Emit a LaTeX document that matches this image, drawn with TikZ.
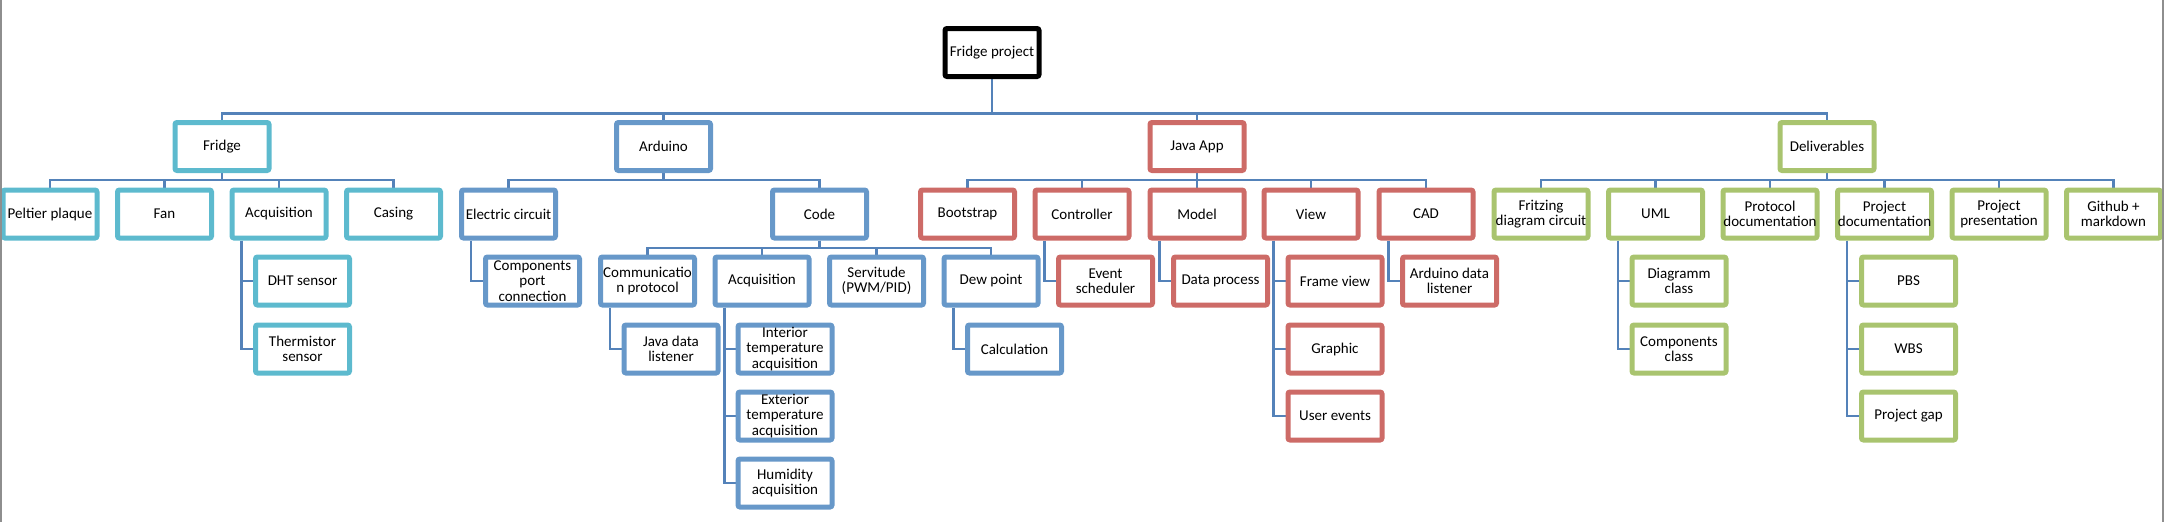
\documentclass[tikz,border=0pt]{standalone}
\usepackage{fontspec}
\setmainfont{Carlito}
\usetikzlibrary{backgrounds}
\definecolor{cFr}{HTML}{5DBACE}
\definecolor{cAr}{HTML}{6798C9}
\definecolor{cJa}{HTML}{CD6B67}
\definecolor{cDe}{HTML}{A9C46F}
\definecolor{cLn}{HTML}{5482B9}
\definecolor{cPg}{HTML}{8E8E8E}
\newcommand\mybus[3]{\draw[conn] (#1.south) -- (#1.south |- #3) -| (#2.north);}
\newcommand\myside[2]{\draw[conn] ([xshift=-37.5pt]#1.south) |- (#2.west);}
\begin{document}
\begin{tikzpicture}[x=1pt,y=-1pt,
  box/.style={draw,line width=5pt,fill=white,minimum width=94pt,minimum height=48pt,
    inner sep=0pt,align=center,rounded corners=2pt,font=\fontsize{15}{15.2}\selectfont},
  blk/.style={box,draw=black},
  fr/.style={box,draw=cFr},
  ar/.style={box,draw=cAr},
  ja/.style={box,draw=cJa},
  de/.style={box,draw=cDe},
  conn/.style={draw=cLn,line width=2.5pt},
  page/.style={draw=cPg,line width=2pt}]
\useasboundingbox (0,0) rectangle (2164,522);
\coordinate (b0) at (0,113.5);
\coordinate (b1) at (0,180);
\coordinate (b2) at (0,248);
% level 0 and 1
\node[blk] (root) at (992,52.5) {Fridge project};
\node[fr] (fridge) at (222,146.5) {Fridge};
\node[ar] (arduino) at (663.5,146.5) {Arduino};
\node[ja] (java) at (1197,146.5) {Java App};
\node[de] (deliv) at (1827,146.5) {Deliverables};
% level 2
\node[fr] (peltier) at (50,214) {Peltier plaque};
\node[fr] (fan) at (164.5,214) {Fan};
\node[fr] (acq) at (279,214) {Acquisition};
\node[fr] (casing) at (393.5,214) {Casing};
\node[ar] (elec) at (508.5,214) {Electric circuit};
\node[ar] (code) at (819.5,214) {Code};
\node[ja] (boot) at (967.5,214) {Bootstrap};
\node[ja] (ctrl) at (1082,214) {Controller};
\node[ja] (model) at (1197,214) {Model};
\node[ja] (view) at (1311,214) {View};
\node[ja] (cad) at (1426,214) {CAD};
\node[de] (fritz) at (1541,214) {Fritzing\\diagram circuit};
\node[de] (uml) at (1655.5,214) {UML};
\node[de] (proto) at (1770,214) {Protocol\\documentation};
\node[de] (pdoc) at (1884.5,214) {Project\\documentation};
\node[de] (ppres) at (1999,214) {Project\\presentation};
\node[de] (github) at (2113.5,214) {Github +\\markdown};
% level 3
\node[fr] (dht) at (302.5,281) {DHT sensor};
\node[fr] (therm) at (302.5,349) {Thermistor\\sensor};
\node[ar] (comp) at (532.5,281) {Components\\port\\connection};
\node[ar] (comm) at (647.5,281) {Communicatio\\n protocol};
\node[ar] (cacq) at (762,281) {Acquisition};
\node[ar] (serv) at (876.5,281) {Servitude\\(PWM/PID)};
\node[ar] (dew) at (991,281) {Dew point};
\node[ja] (event) at (1105.5,281) {Event\\scheduler};
\node[ja] (dproc) at (1220.5,281) {Data process};
\node[ja] (frame) at (1335,281) {Frame view};
\node[ja] (graphic) at (1335,349) {Graphic};
\node[ja] (uevents) at (1335,416) {User events};
\node[ja] (cadl) at (1449.5,281) {Arduino data\\listener};
\node[de] (diag) at (1679,281) {Diagramm\\class};
\node[de] (compc) at (1679,349) {Components\\class};
\node[de] (pbs) at (1908.5,281) {PBS};
\node[de] (wbs) at (1908.5,349) {WBS};
\node[de] (gap) at (1908.5,416) {Project gap};
% level 4
\node[ar] (jdl) at (671,349) {Java data\\listener};
\node[ar] (inter) at (785,349) {Interior\\temperature\\acquisition};
\node[ar] (exter) at (785,416) {Exterior\\temperature\\acquisition};
\node[ar] (humid) at (785,483) {Humidity\\acquisition};
\node[ar] (calc) at (1014.5,349) {Calculation};
\begin{pgfonlayer}{background}
\mybus{root}{fridge}{b0}
\mybus{root}{arduino}{b0}
\mybus{root}{java}{b0}
\mybus{root}{deliv}{b0}
\foreach \c in {peltier,fan,acq,casing} {\mybus{fridge}{\c}{b1}}
\foreach \c in {elec,code} {\mybus{arduino}{\c}{b1}}
\foreach \c in {boot,ctrl,model,view,cad} {\mybus{java}{\c}{b1}}
\foreach \c in {fritz,uml,proto,pdoc,ppres,github} {\mybus{deliv}{\c}{b1}}
\foreach \c in {comm,cacq,serv,dew} {\mybus{code}{\c}{b2}}
\myside{acq}{dht}
\myside{acq}{therm}
\myside{elec}{comp}
\myside{comm}{jdl}
\myside{cacq}{inter}
\myside{cacq}{exter}
\myside{cacq}{humid}
\myside{dew}{calc}
\myside{ctrl}{event}
\myside{model}{dproc}
\myside{view}{frame}
\myside{view}{graphic}
\myside{view}{uevents}
\myside{cad}{cadl}
\myside{uml}{diag}
\myside{uml}{compc}
\myside{pdoc}{pbs}
\myside{pdoc}{wbs}
\myside{pdoc}{gap}
\end{pgfonlayer}
\draw[page] (1,0) -- (1,522);
\draw[page] (2163,0) -- (2163,522);
\end{tikzpicture}
\end{document}
